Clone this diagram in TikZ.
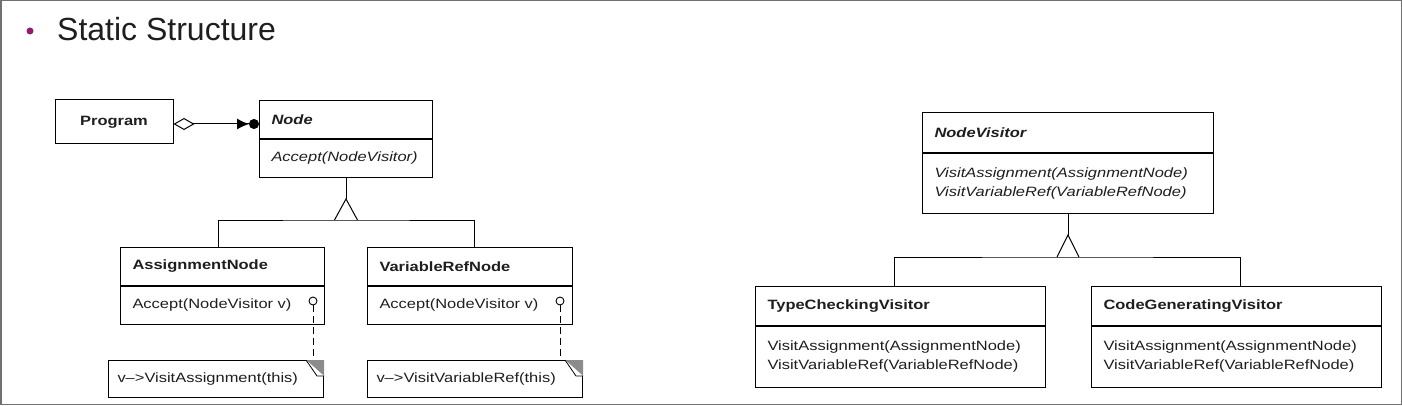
\documentclass[tikz,border=0pt]{standalone}
\usepackage{fontspec}
\setmainfont{Liberation Sans}
\newfontfamily\umlfont[FakeStretch=1.22]{Liberation Sans}
\usepackage{xcolor}
\usetikzlibrary{arrows.meta, positioning}
\definecolor{bulletpurple}{HTML}{8E1F6E}
\definecolor{framegray}{HTML}{707070}
\definecolor{textdark}{HTML}{1E1E1E}
\definecolor{cornergray}{HTML}{8C8C8C}

\begin{document}
\begin{tikzpicture}[x=1pt, y=-1pt,
    classhead/.style={draw, line width=1pt, anchor=north west, align=left, inner xsep=12pt, inner ysep=0pt,
        text=textdark, font=\umlfont\fontsize{13.5}{16}\selectfont\bfseries},
    classbody/.style={draw, line width=1pt, align=left, inner xsep=12pt, inner ysep=0pt,
        text=textdark, font=\umlfont\fontsize{13.5}{19}\selectfont},
    notebox/.style={draw, line width=1pt, anchor=north west, align=left, inner xsep=9pt, inner ysep=0pt,
        text=textdark, font=\umlfont\fontsize{13.5}{16}\selectfont},
    pin/.style={draw, circle, line width=0.9pt, inner sep=0pt, minimum size=8pt},
    link/.style={line width=1pt}]

    % Frame and heading
    \useasboundingbox (0,0) rectangle (1402,406);
    \draw[framegray, line width=1.5pt] (0.75,0.75) rectangle (1401.25,404.5);
    \fill[bulletpurple] (30,31) circle (3.5);
    \node[anchor=base west, inner sep=0pt, text=textdark, font=\fontsize{32}{38}\selectfont] (heading) at (57,41) {Static Structure};

    % Program and Node
    \node[draw, line width=1pt, minimum width=118pt, minimum height=44pt, text=textdark,
        font=\umlfont\fontsize{13.5}{16}\selectfont\bfseries] (program) at (114,122) {Program};
    \node[classhead, text width=149pt, minimum height=38pt] (nodehead) at (259,100) {\itshape Node};
    \node[classbody, text width=149pt, minimum height=38pt, below=0pt of nodehead] (nodebody) {\itshape Accept(NodeVisitor)};
    \draw[link, {Diamond[open, length=21pt, width=12pt]}-{Latex[length=12pt, width=11pt]Circle[length=10pt]}]
        ([yshift=-2pt]program.east) -- ([yshift=-2pt]program.east -| nodehead.west);

    % Node subclasses
    \node[classhead, text width=180pt, minimum height=38pt] (asghead) at (120,247) {AssignmentNode};
    \node[classbody, text width=180pt, minimum height=38pt, below=0pt of asghead] (asgbody) {Accept(NodeVisitor v)};
    \node[classhead, text width=181pt, minimum height=38pt] (varhead) at (367,247) {VariableRefNode};
    \node[classbody, text width=181pt, minimum height=38pt, below=0pt of varhead] (varbody) {Accept(NodeVisitor v)};

    % Inheritance triangle
    \coordinate (nodebase) at (nodebody.south |- 0,220);
    \draw[link] (nodebody.south) -- ([yshift=21pt]nodebase);
    \draw[link] ([xshift=-11.5pt]nodebase) -- ([yshift=21pt]nodebase) -- ([xshift=11.5pt]nodebase);
    \draw[link] ([xshift=-4pt]asghead.north) |- (nodebase) -| ([xshift=4.5pt]varhead.north);

    % Implementation notes
    \node[notebox, text width=197pt, minimum height=37pt] (asgnote) at (108,360) {v\textendash{}>VisitAssignment(this)};
    \node[notebox, text width=197pt, minimum height=37pt] (varnote) at (367,360) {v\textendash{}>VisitVariableRef(this)};
    \foreach \nt in {asgnote, varnote} {
        \fill[cornergray] ([xshift=-18pt]\nt.north east) -- (\nt.north east) -- ([yshift=-16pt]\nt.north east) -- cycle;
        \filldraw[fill=white, line width=0.8pt] ([xshift=-18pt]\nt.north east) -- ([xshift=-7pt, yshift=-16pt]\nt.north east)
            -- ([yshift=-16pt]\nt.north east);
    }
    \node[pin] (asgpin) at (313,301) {};
    \node[pin] (varpin) at (560,301) {};
    \draw[link, dash pattern=on 7pt off 4pt] (asgpin) -- (asgpin |- asgnote.north);
    \draw[link, dash pattern=on 7pt off 4pt] (varpin) -- (varpin |- varnote.north);

    % Visitor hierarchy
    \node[classhead, text width=267pt, minimum height=40pt] (vishead) at (922,112) {\itshape NodeVisitor};
    \node[classbody, text width=267pt, minimum height=60pt, below=0pt of vishead] (visbody)
        {\itshape VisitAssignment(AssignmentNode)\\\itshape VisitVariableRef(VariableRefNode)};
    \node[classhead, text width=266pt, minimum height=39pt] (tchead) at (755,286) {TypeCheckingVisitor};
    \node[classbody, text width=266pt, minimum height=61pt, below=0pt of tchead] (tcbody)
        {VisitAssignment(AssignmentNode)\\VisitVariableRef(VariableRefNode)};
    \node[classhead, text width=266pt, minimum height=39pt] (cghead) at (1091,286) {CodeGeneratingVisitor};
    \node[classbody, text width=266pt, minimum height=61pt, below=0pt of cghead] (cgbody)
        {VisitAssignment(AssignmentNode)\\VisitVariableRef(VariableRefNode)};

    \coordinate (visbase) at (visbody.south |- 0,257);
    \draw[link] (visbody.south) -- ([yshift=22pt]visbase);
    \draw[link] ([xshift=-11pt]visbase) -- ([yshift=22pt]visbase) -- ([xshift=11pt]visbase);
    \draw[link] ([xshift=-6pt]tchead.north) |- (visbase) -| ([xshift=4pt]cghead.north);
\end{tikzpicture}
\end{document}
